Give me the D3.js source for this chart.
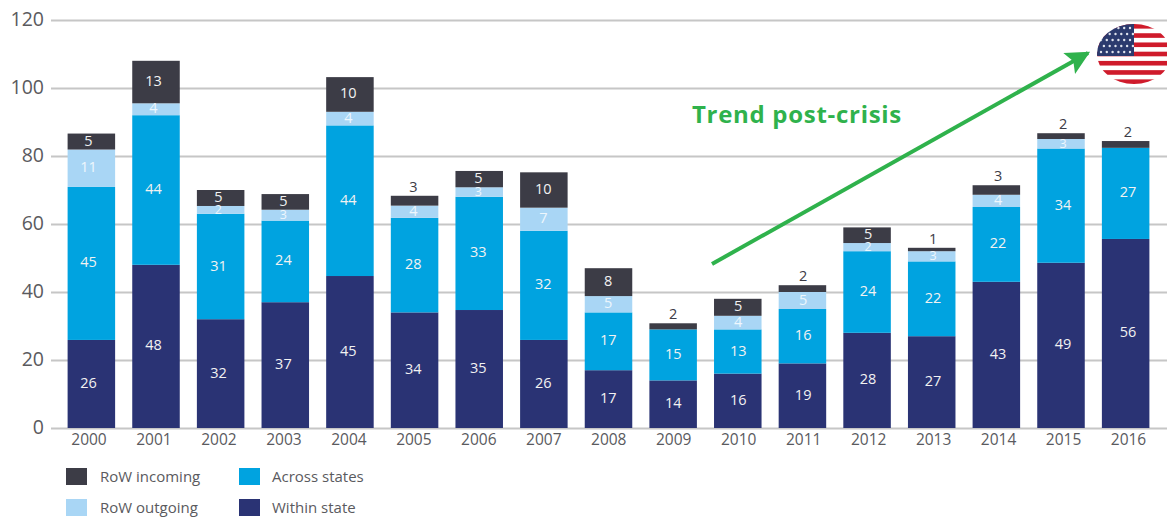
<!DOCTYPE html>
<html>
    <head>
        <script src="https://d3js.org/d3.v7.min.js" charset="utf-8"></script>
        <style>
            html, body { margin: 0; padding: 0; background: #fff; }
            text { font-family: "Open Sans", sans-serif; }
        </style>
    </head>
    <body>
        <script>
            const WIDTH = 1167;
            const HEIGHT = 517;

            const years = ['2000', '2001', '2002', '2003', '2004', '2005', '2006', '2007', '2008',
                '2009', '2010', '2011', '2012', '2013', '2014', '2015', '2016'];
            // labels are these values rounded
            const withinState = [25.9, 48, 32, 37, 44.7, 34, 34.7, 25.9, 17, 14, 16, 19, 28, 27, 43, 48.6, 55.6];
            const acrossStates = [45, 44, 31, 24, 44.3, 27.8, 33.3, 32.1, 17, 15, 13, 16, 24, 22, 22, 33.6, 26.8];
            const rowOutgoing = [11, 3.5, 2.3, 3.2, 4, 3.6, 2.8, 6.8, 4.8, 0, 4, 5, 2.4, 3, 3.6, 2.8, 0];
            const rowIncoming = [4.7, 12.5, 4.7, 4.6, 10.2, 2.9, 4.8, 10.4, 8.2, 1.8, 5, 2, 4.6, 1, 2.8, 1.7, 2];

            const yTicks = [0, 20, 40, 60, 80, 100, 120];
            const seriesNames = ['Within state', 'Across states', 'RoW outgoing', 'RoW incoming'];
            const seriesColors = ['#2a3374', '#00a3e0', '#a9d6f5', '#3c3c46'];
            const seriesValues = [withinState, acrossStates, rowOutgoing, rowIncoming];

            const TEXT_COLOR = '#5a5a5e';
            const GREEN = '#2fb24c';

            const svg = d3.select('body').append('svg')
                .attr('width', WIDTH)
                .attr('height', HEIGHT);

            const xScale = d3.scaleBand()
                .domain(years)
                .range([59.2, 1157.8])
                .paddingInner(0.265)
                .paddingOuter(0.13);
            // the printed labels run on a slightly wider pitch than the bars
            const labelScale = d3.scalePoint()
                .domain(years)
                .range([88.5, 1128]);
            const yScale = d3.scaleLinear()
                .domain([0, 120])
                .range([428, 20]);

            // grid and y labels
            const yAxis = svg.append('g')
                .attr('transform', 'translate(51,0)')
                .call(d3.axisLeft(yScale).tickValues(yTicks).tickSize(-(WIDTH - 51)).tickPadding(7));
            yAxis.select('.domain').remove();
            yAxis.selectAll('line').attr('stroke', '#c6c6c6').attr('stroke-width', 2);
            yAxis.selectAll('text')
                .attr('fill', TEXT_COLOR)
                .attr('dy', '0.28em')
                .style('font-size', '19.5px');

            const stack = d3.stack().keys(d3.range(seriesNames.length))
                .value(function(d, key) { return seriesValues[key][d]; });
            const layers = stack(d3.range(years.length));

            const layer = svg.selectAll('.layer')
                .data(layers)
                .enter()
                .append('g')
                .attr('class', 'layer')
                .attr('fill', function(d) { return seriesColors[d.key]; });

            layer.selectAll('rect')
                .data(function(d) { return d; })
                .enter()
                .append('rect')
                .attr('x', function(d) { return xScale(years[d.data]); })
                .attr('width', xScale.bandwidth())
                .attr('y', function(d) { return yScale(d[1]); })
                .attr('height', function(d) { return yScale(d[0]) - yScale(d[1]); });

            // x labels
            const xAxis = svg.append('g')
                .attr('transform', 'translate(0,428)')
                .call(d3.axisBottom(labelScale).tickSize(0).tickPadding(6));
            xAxis.select('.domain').remove();
            xAxis.selectAll('text')
                .attr('fill', TEXT_COLOR)
                .style('font-size', '15.5px');

            // value labels, thin incoming segments get theirs above the bar
            layers.forEach(function(series) {
                series.forEach(function(d) {
                    const value = d[1] - d[0];
                    if (value <= 0) return;
                    const above = series.key == 3 && value < 3.5;
                    const thin = value < 3.5 && !above;
                    const text = svg.append('text')
                        .attr('x', labelScale(years[d.data]))
                        .attr('text-anchor', 'middle')
                        .style('font-size', thin ? '12.5px' : '14.5px')
                        .text(Math.round(value));
                    if (above) {
                        text.attr('y', yScale(d[1]) - 4).attr('fill', '#3c3c46');
                    } else {
                        text.attr('y', yScale((d[0] + d[1]) / 2) + 4)
                            .attr('fill', series.key == 2 ? '#eef7fd' : '#f2f2f2');
                    }
                });
            });

            // legend
            const legendCells = [
                { series: 3, x: 66, y: 468, tx: 100 },
                { series: 1, x: 239, y: 468, tx: 272 },
                { series: 2, x: 66, y: 499, tx: 100 },
                { series: 0, x: 239, y: 499, tx: 272 }
            ];
            const legend = svg.selectAll('.legend')
                .data(legendCells)
                .enter()
                .append('g')
                .attr('class', 'legend');
            legend.append('rect')
                .attr('x', function(d) { return d.x; })
                .attr('y', function(d) { return d.y; })
                .attr('width', 21)
                .attr('height', 17)
                .attr('fill', function(d) { return seriesColors[d.series]; });
            legend.append('text')
                .attr('x', function(d) { return d.tx; })
                .attr('y', function(d) { return d.y + 14; })
                .attr('fill', TEXT_COLOR)
                .style('font-size', '15px')
                .text(function(d) { return seriesNames[d.series]; });

            // trend annotation
            svg.append('text')
                .attr('x', 692)
                .attr('y', 123)
                .attr('fill', GREEN)
                .style('font-size', '24px')
                .style('letter-spacing', '0.7px')
                .style('font-weight', 700)
                .text('Trend post-crisis');
            svg.append('defs').append('marker')
                .attr('id', 'arrow')
                .attr('viewBox', '0 0 10 10')
                .attr('refX', 9)
                .attr('refY', 5)
                .attr('markerWidth', 7.5)
                .attr('markerHeight', 6)
                .attr('orient', 'auto')
                .append('path')
                .attr('d', 'M0,0L10,5L0,10L2,5Z')
                .attr('fill', GREEN);
            svg.append('line')
                .attr('x1', 712)
                .attr('y1', 264)
                .attr('x2', 1088)
                .attr('y2', 53)
                .attr('stroke', GREEN)
                .attr('stroke-width', 4)
                .attr('marker-end', 'url(#arrow)');

            // flag badge
            const flag = svg.append('g');
            d3.select('svg defs').append('clipPath')
                .attr('id', 'flagClip')
                .append('ellipse')
                .attr('cx', 1134)
                .attr('cy', 54)
                .attr('rx', 37)
                .attr('ry', 30);
            const flagBody = flag.append('g').attr('clip-path', 'url(#flagClip)');
            flagBody.append('rect').attr('x', 1097).attr('y', 24).attr('width', 74).attr('height', 60).attr('fill', '#fff');
            flagBody.selectAll('.stripe')
                .data(d3.range(0, 13, 2))
                .enter()
                .append('rect')
                .attr('x', 1097)
                .attr('y', function(d) { return 24 + d * 60 / 13; })
                .attr('width', 74)
                .attr('height', 60 / 13)
                .attr('fill', '#cf1b2b');
            flagBody.append('rect').attr('x', 1097).attr('y', 24).attr('width', 37).attr('height', 32).attr('fill', '#2b3a6e');
            const starRows = d3.range(5);
            const starCols = d3.range(6);
            starRows.forEach(function(r) {
                starCols.forEach(function(c) {
                    flagBody.append('circle')
                        .attr('cx', 1101 + c * 5.8 + (r % 2) * 2.9)
                        .attr('cy', 28 + r * 6)
                        .attr('r', 1.2)
                        .attr('fill', '#dfe3ee');
                });
            });
        </script>
    </body>
</html>
